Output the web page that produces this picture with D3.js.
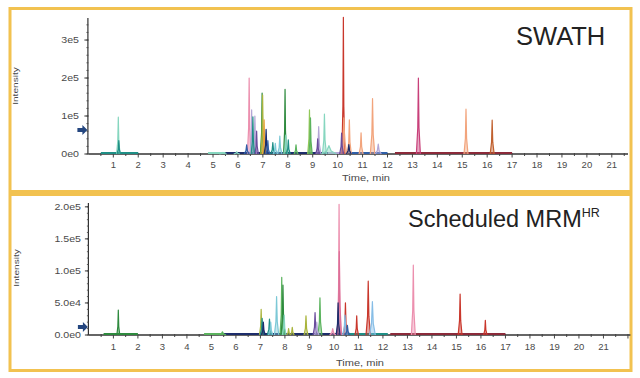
<!DOCTYPE html>
<html><head><meta charset="utf-8">
<script src="https://cdn.jsdelivr.net/npm/d3@7"></script>
<style>body{margin:0;background:#fff}svg{display:block}</style>
</head><body><svg id="c" width="640" height="378"></svg>
<script>
// ---------- data ----------
const timeTicks = [1,2,3,4,5,6,7,8,9,10,11,12,13,14,15,16,17,18,19,20,21];
const swathYTicks = [0, 100000, 200000, 300000];
const swathYLabels = ["0e0", "1e5", "2e5", "3e5"];
const mrmYTicks = [0, 50000, 100000, 150000, 200000];
const mrmYLabels = ["0.0e0", "5.0e4", "1.0e5", "1.5e5", "2.0e5"];

// SWATH peaks: retention time (min), apex intensity, half width (min), trace id
const swathRT        = [1.20, 1.22, 5.40, 5.95, 6.35, 6.45, 6.55, 6.60, 6.68, 6.75, 6.97, 6.99, 7.05, 7.13, 7.20, 7.40, 7.50, 7.68, 7.89, 7.92, 8.02, 8.33, 8.87, 8.91, 9.20, 9.24, 9.47, 9.65, 10.16, 10.23, 10.25, 10.47, 10.45, 10.94, 11.40, 11.63, 13.24, 15.15, 16.20];
const swathIntensity = [97000, 35000, 4000, 6000, 24000, 200000, 116000, 98000, 100000, 60000, 160000, 155000, 90000, 65000, 35000, 30000, 28000, 47000, 170000, 50000, 37000, 24000, 116000, 95000, 40000, 72000, 105000, 22000, 55000, 360000, 95000, 90000, 25000, 56000, 146000, 26000, 200000, 118000, 89000];
const swathWidth     = [0.07, 0.07, 0.15, 0.12, 0.10, 0.07, 0.07, 0.07, 0.07, 0.07, 0.07, 0.07, 0.07, 0.08, 0.08, 0.09, 0.09, 0.09, 0.06, 0.08, 0.08, 0.08, 0.07, 0.07, 0.08, 0.09, 0.08, 0.30, 0.08, 0.06, 0.12, 0.08, 0.10, 0.08, 0.09, 0.12, 0.08, 0.08, 0.08];
const swathTrace     = ["mint","teal","mint","mint","blue","pink","lavender","teal","lavender","purple","dkgreen","olive","orange","navy","blue","teal","cyan","cyan","dkgreen","mint","teal","green","lime","green","purple","lavender","mint","mint","purple","red","salmon","salmon","navy","salmon","salmon","lavender","magenta","salmon","brown"];
// SWATH baseline traces
const swathBaseFrom  = [0.5, 4.8, 5.5, 9.6, 10.5, 12.3];
const swathBaseTo    = [2.0, 5.6, 10.3, 10.2, 12.0, 17.0];
const swathBaseTrace = ["teal","mint","navy","lavender","blue","maroon"];

// Scheduled MRM-HR peaks
const mrmRT        = [1.20, 5.45, 7.03, 7.07, 7.12, 7.37, 7.42, 7.66, 7.87, 7.92, 7.97, 8.15, 8.30, 8.86, 9.23, 9.30, 9.43, 9.95, 10.17, 10.21, 10.22, 10.47, 10.45, 10.55, 10.93, 11.40, 11.57, 13.24, 15.15, 16.18];
const mrmIntensity = [39000, 5000, 40000, 26000, 20000, 25000, 20000, 60000, 90000, 78000, 31000, 10000, 12000, 30000, 35000, 20000, 58000, 10000, 50000, 204000, 130000, 50000, 31000, 15000, 30000, 84000, 52000, 109000, 64000, 23000];
const mrmWidth     = [0.06, 0.15, 0.07, 0.08, 0.08, 0.09, 0.09, 0.09, 0.07, 0.08, 0.08, 0.08, 0.08, 0.08, 0.08, 0.09, 0.08, 0.12, 0.08, 0.07, 0.09, 0.08, 0.10, 0.10, 0.07, 0.09, 0.12, 0.08, 0.08, 0.07];
const mrmTrace     = ["dkgreen","green","olive","teal","navy","teal","cyan","cyan","green","dkgreen","mint","olive","olive","olive","purple","lavender","green","pink","navy","pink","pink2","red","ltblue","blue","red","red","ltblue","pink","red","red"];
const mrmBaseFrom  = [0.6, 4.7, 5.5, 10.5, 12.3];
const mrmBaseTo    = [2.0, 5.6, 10.6, 12.2, 17.0];
const mrmBaseTrace = ["dkgreen","green","navy","teal","maroon"];

// ---------- style ----------
const palette = {
  pink:"#ec8fae", pink2:"#dc6f98", red:"#c9372c", salmon:"#f2a47c", orange:"#e9a23a", dkgreen:"#2e8a3e",
  green:"#5bb35e", lime:"#93c95a", teal:"#1f8f86", mint:"#86d6bf", cyan:"#7cc8d6",
  lavender:"#b3a6d6", purple:"#6a4c9c", navy:"#1d2d6b", blue:"#2f5fa8", ltblue:"#86bde6",
  olive:"#a9b43c", magenta:"#c8407a", maroon:"#8b2a3a", brown:"#c0602e"
};
const FONT = "'Liberation Sans', Arial, sans-serif";
const svg = d3.select("#c");
const border = "#f2c250";

svg.append("rect").attr("x",10).attr("y",8.5).attr("width",621).attr("height",183)
  .attr("fill","#fff").attr("stroke",border).attr("stroke-width",3);
svg.append("rect").attr("x",10).attr("y",194.5).attr("width",621).attr("height",176)
  .attr("fill","#fff").attr("stroke",border).attr("stroke-width",3);

function scaledText(g, x, y, txt, size, sx, anchor, rotate) {
  return g.append("text")
    .attr("transform", `translate(${x},${y})` + (rotate ? ` rotate(${rotate})` : "") + ` scale(${sx},1)`)
    .attr("font-family", FONT).attr("font-size", size).attr("fill", "#4a4a4a")
    .attr("text-anchor", anchor).text(txt);
}

function drawPanel(cfg) {
  const g = svg.append("g");
  const x = d3.scaleLinear().domain(cfg.xDomain).range(cfg.xRange);
  const y = d3.scaleLinear().domain(cfg.yDomain).range(cfg.yRange);
  const y0 = y(0);

  g.append("line").attr("x1", x(0)).attr("x2", cfg.xRange[1]).attr("y1", y0).attr("y2", y0)
    .attr("stroke", "#333").attr("stroke-width", 1.4);
  g.append("line").attr("x1", x(0)-0.5).attr("x2", x(0)-0.5).attr("y1", cfg.yRange[1]).attr("y2", y0)
    .attr("stroke", "#333").attr("stroke-width", 1.2);

  const halfTicks = d3.range(0.5, cfg.xDomain[1], 0.5);
  g.selectAll(null).data(halfTicks).join("line")
    .attr("x1", d => x(d)).attr("x2", d => x(d))
    .attr("y1", y0 - 1).attr("y2", d => y0 + (Number.isInteger(d) ? 3.5 : 2))
    .attr("stroke", "#444").attr("stroke-width", 1);
  timeTicks.forEach(t => scaledText(g, x(t), cfg.xLabelY, String(t), 9.5, 1.0, "middle"));
  scaledText(g, cfg.timeX, cfg.timeY, "Time, min", 8.5, 1.3, "middle");

  const minor = d3.range(0, cfg.yDomain[1], cfg.yMinor);
  g.selectAll(null).data(minor).join("line")
    .attr("x1", x(0) - 2).attr("x2", x(0))
    .attr("y1", d => y(d)).attr("y2", d => y(d))
    .attr("stroke", "#444").attr("stroke-width", 0.8);
  g.selectAll(null).data(cfg.yTicks).join("line")
    .attr("x1", x(0) - 4).attr("x2", x(0))
    .attr("y1", d => y(d)).attr("y2", d => y(d))
    .attr("stroke", "#333").attr("stroke-width", 1);
  cfg.yTicks.forEach((v, i) => scaledText(g, cfg.yLabelX, y(v) + 3, cfg.yLabels[i], 8.5, 1.25, "end"));
  scaledText(g, cfg.intX, cfg.intY, "Intensity", 7, 1.45, "middle", -90);

  cfg.baseFrom.forEach((f, i) => {
    g.append("line").attr("x1", x(f)).attr("x2", x(cfg.baseTo[i]))
      .attr("y1", y0 - 1).attr("y2", y0 - 1)
      .attr("stroke", palette[cfg.baseTrace[i]]).attr("stroke-width", 2);
  });

  const line = d3.line().x(d => x(d[0])).y(d => y(d[1]));
  const idx = d3.range(cfg.rt.length).sort((a, b) => cfg.inten[b] - cfg.inten[a]);
  idx.forEach(i => {
    const t = cfg.rt[i], h = cfg.inten[i], w = cfg.width[i];
    const pts = [[t - w, 0], [t - w * 0.3, h * 0.35], [t, h], [t + w * 0.3, h * 0.35], [t + w, 0]];
    const c = palette[cfg.trace[i]];
    g.append("path").attr("d", line(pts))
      .attr("fill", c).attr("fill-opacity", 0.45)
      .attr("stroke", c).attr("stroke-width", 1.2).attr("stroke-linejoin", "round");
  });

  const ay = cfg.arrowY, ax = x(0) - 11;
  g.append("path")
    .attr("d", `M${ax},${ay-2} L${ax+5},${ay-2} L${ax+5},${ay-5} L${ax+10},${ay} L${ax+5},${ay+5} L${ax+5},${ay+2} L${ax},${ay+2} Z`)
    .attr("fill", "#24467f");
  return g;
}

drawPanel({
  xDomain: [0, 21.65], xRange: [88.4, 628],
  yDomain: [0, 358000], yRange: [154, 18],
  yTicks: swathYTicks, yLabels: swathYLabels, yMinor: 20000,
  yLabelX: 79, xLabelY: 168, timeX: 366, timeY: 181, intX: 18, intY: 86,
  rt: swathRT, inten: swathIntensity, width: swathWidth, trace: swathTrace,
  baseFrom: swathBaseFrom, baseTo: swathBaseTo, baseTrace: swathBaseTrace,
  arrowY: 130
});
drawPanel({
  xDomain: [0, 22.1], xRange: [88.9, 630.4],
  yDomain: [0, 206000], yRange: [335, 203],
  yTicks: mrmYTicks, yLabels: mrmYLabels, yMinor: 10000,
  yLabelX: 81, xLabelY: 350, timeX: 360, timeY: 366, intX: 19, intY: 268,
  rt: mrmRT, inten: mrmIntensity, width: mrmWidth, trace: mrmTrace,
  baseFrom: mrmBaseFrom, baseTo: mrmBaseTo, baseTrace: mrmBaseTrace,
  arrowY: 327
});

svg.append("text").attr("x", 516).attr("y", 45).attr("font-family", FONT)
  .attr("font-size", 25.5).attr("fill", "#222").text("SWATH");
const mt = svg.append("text").attr("x", 408).attr("y", 227).attr("font-family", FONT)
  .attr("font-size", 23.5).attr("fill", "#222");
mt.append("tspan").text("Scheduled MRM");
mt.append("tspan").attr("font-size", 12.5).attr("dy", -10).text("HR");
</script></body></html>
